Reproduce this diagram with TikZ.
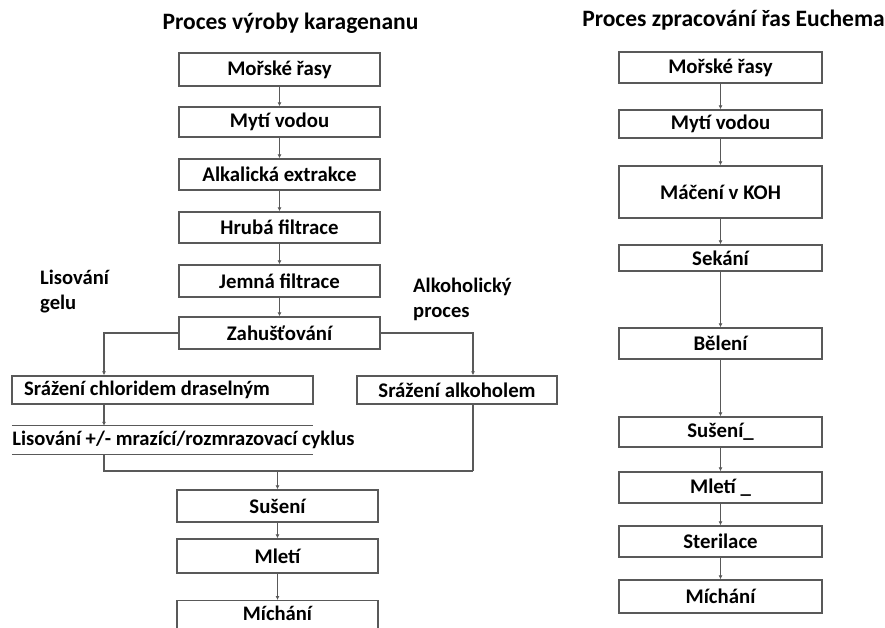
\documentclass[tikz,border=0pt]{standalone}
\usepackage{fontspec}
\setmainfont{Carlito}
\usetikzlibrary{arrows.meta}
\begin{document}
\begin{tikzpicture}[x=1pt,y=-1pt,
  box/.style={draw=black!65, line width=1.4pt, fill=white, inner sep=0pt,
    font=\bfseries\fontsize{20.8}{24}\selectfont},
  lbl/.style={inner sep=0pt, font=\bfseries\fontsize{20.6}{25}\selectfont},
  ttl/.style={inner sep=0pt, font=\bfseries\fontsize{23.5}{27}\selectfont},
  arr/.style={draw=black!65, line width=1.3pt, -{Latex[length=4pt,width=4pt]}},
  ln/.style={draw=black!65, line width=1.3pt}]
\useasboundingbox (0,0) rectangle (885,628);
\clip (0,0) rectangle (885,628);
% titles
\node[ttl] (t1) at (290.5,23) {Proces výroby karagenanu};
\node[ttl] (t2) at (733.5,20) {Proces zpracování řas Euchema};
% left column
\node[box, minimum width=201, minimum height=33] (mor) at (279.5,69.5) {Mořské řasy};
\node[box, minimum width=201, minimum height=30] (myt) at (279.5,122) {Mytí vodou};
\node[box, minimum width=201, minimum height=31] (alk) at (279.5,174.5) {Alkalická extrakce};
\node[box, minimum width=201, minimum height=31] (hru) at (279.5,227.5) {Hrubá filtrace};
\node[box, minimum width=201, minimum height=32] (jem) at (279.5,281) {Jemná filtrace};
\node[box, minimum width=201, minimum height=32] (zah) at (279.5,333) {Zahušťování};
\node[box, minimum width=301, minimum height=28] (srch) at (162.5,390) {};
\node[lbl, anchor=west] (srchT) at (24,390) {Srážení chloridem draselným};
\node[box, minimum width=200, minimum height=28] (srak) at (457,390) {Srážení alkoholem};
\node[inner sep=0pt, minimum width=301, minimum height=28] (lisbox) at (162.5,440) {};
\node[lbl] (lis) at (183.5,440) {Lisování +/- mrazící/rozmrazovací cyklus};
\node[box, minimum width=201, minimum height=32] (sus) at (277.5,506) {Sušení};
\node[box, minimum width=201, minimum height=34] (mle) at (277.5,556) {Mletí};
\node[box, minimum width=201, minimum height=40, anchor=north] (mic) at (277.5,600) {};
\node[lbl, anchor=north] (micT) at (277.5,606) {Míchání};
\node[lbl, align=left, anchor=west] (lg) at (40,291.5) {Lisování\\gelu};
\node[lbl, align=left, anchor=west] (ap) at (413,299) {Alkoholický\\proces};
\draw[ln] (lisbox.north west) -- (lisbox.north east);
\draw[ln] (lisbox.south west) -- (lisbox.south east);
\coordinate (lx) at (104,0);
\coordinate (rx) at (473,0);
\coordinate (m) at (0,471);
\draw[arr] (mor) -- (myt);
\draw[arr] (myt) -- (alk);
\draw[arr] (alk) -- (hru);
\draw[arr] (hru) -- (jem);
\draw[arr] (jem) -- (zah);
\draw[arr] (zah.west) -| (srch.north -| lx);
\draw[arr] (srch.south -| lx) -- (lisbox.north -| lx);
\draw[ln] (lisbox.south -| lx) -- (lx |- m) -- (rx |- m);
\draw[arr] (zah.east) -| (srak.north -| rx);
\draw[ln] (srak.south -| rx) -- (rx |- m);
\draw[arr] (sus.north |- m) -- (sus.north);
\draw[arr] (sus) -- (mle);
\draw[arr] (mle) -- (mic);
% right column
\node[box, minimum width=203, minimum height=31] (rmor) at (720.5,67.5) {Mořské řasy};
\node[box, minimum width=203, minimum height=28] (rmyt) at (720.5,124) {Mytí vodou};
\node[box, minimum width=203, minimum height=52] (rmac) at (720.5,192) {Máčení v KOH};
\node[box, minimum width=203, minimum height=26] (rsek) at (720.5,258) {Sekání};
\node[box, minimum width=203, minimum height=31] (rbel) at (720.5,343.5) {Bělení};
\node[box, minimum width=203, minimum height=30] (rsus) at (720.5,432) {Sušení\_};
\node[box, minimum width=203, minimum height=31] (rmle) at (720.5,487.5) {Mletí \_};
\node[box, minimum width=203, minimum height=31] (rste) at (720.5,541.5) {Sterilace};
\node[box, minimum width=203, minimum height=33] (rmic) at (720.5,596.5) {Míchání};
\draw[arr] (rmor) -- (rmyt);
\draw[arr] (rmyt) -- (rmac);
\draw[arr] (rmac) -- (rsek);
\draw[arr] (rsek) -- (rbel);
\draw[arr] (rbel) -- (rsus);
\draw[arr] (rsus) -- (rmle);
\draw[arr] (rmle) -- (rste);
\draw[arr] (rste) -- (rmic);
\end{tikzpicture}
\end{document}
